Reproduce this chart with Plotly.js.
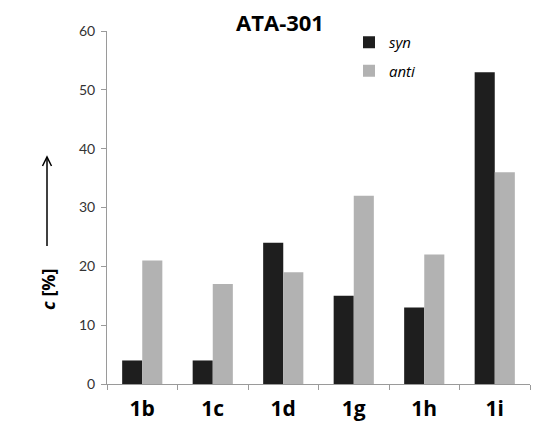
<!DOCTYPE html>
<html><head><meta charset="utf-8">
<script src="https://cdn.plot.ly/plotly-3.0.1.min.js"></script>
<style>html,body{margin:0;padding:0;background:#fff}</style>
</head><body><div id="chart" style="width:545px;height:427px"></div>
<script>
const categories = ['1b','1c','1d','1g','1h','1i'];
const synValues = [4, 4, 24, 15, 13, 53];
const antiValues = [21, 17, 19, 32, 22, 36];
const yTicks = [0,10,20,30,40,50,60];

const W = 545, H = 427, L = 107, R = 15, T = 31, B = 43;
const pw = W - L - R, ph = H - T - B;
const px = x => (x - L) / pw;
const py = y => (H - B - y) / ph;

const font = 'Lato, "Open Sans", "Liberation Sans", sans-serif';
const bfont = '"Open Sans", "Noto Sans", sans-serif';

const traces = [
  {type:'bar', name:'<i>syn</i>', x:categories, y:synValues, marker:{color:'#1e1e1e'}, legendgroup:'a'},
  {type:'bar', name:'<i>anti</i>', x:categories, y:antiValues, marker:{color:'#b2b2b2'}, legendgroup:'b'}
];

const ax = px(47), ytop = py(157), ybot = py(246);
const layout = {
  width: W, height: H,
  margin: {l:L, r:R, t:T, b:B, pad:0},
  paper_bgcolor:'#fff', plot_bgcolor:'#fff',
  barmode:'group', bargap:0.43, bargroupgap:0,
  title: {text:'<b>ATA-301</b>', x:280/W, xref:'container', xanchor:'center', y:1 - 23/H, yanchor:'middle', font:{family:bfont, size:22, color:'#000'}},
  showlegend:true,
  legend: {x:px(349), y:py(26), xanchor:'left', yanchor:'top', traceorder:'grouped', tracegroupgap:6,
           font:{family:bfont, size:15, color:'#000'}, bgcolor:'rgba(0,0,0,0)'},
  xaxis: {type:'category', showline:true, linecolor:'#9a9a9a', linewidth:1, ticks:'outside', ticklen:5,
          tickcolor:'#9a9a9a', tickson:'boundaries', showgrid:false, zeroline:false,
          tickfont:{family:bfont, size:21, color:'#000', weight:'bold'}, ticklabelstandoff:6},
  yaxis: {range:[0,60], tickvals:yTicks, showline:true, linecolor:'#9a9a9a', linewidth:1, ticks:'outside', ticklen:5,
          tickcolor:'#9a9a9a', showgrid:false, zeroline:false,
          tickfont:{family:font, size:14, color:'#333'}, ticklabelstandoff:3},
  annotations: [
    {text:'<b><i>c</i> [%]</b>', xref:'paper', yref:'paper', x:px(48), y:py(289), textangle:-90,
     showarrow:false, font:{family:bfont, size:18, color:'#000'}, xanchor:'center', yanchor:'middle'}
  ],
  shapes: [
    {type:'line', xref:'paper', yref:'paper', x0:ax, x1:ax, y0:ybot, y1:ytop, line:{color:'#000', width:1.5}},
    {type:'path', xref:'paper', yref:'paper',
     path:`M ${px(42.5)} ${py(166)} L ${ax} ${ytop} L ${px(51.5)} ${py(166)}`, line:{color:'#000', width:1.5}}
  ]
};
Plotly.newPlot('chart', traces, layout, {displayModeBar:false, staticPlot:true});
</script></body></html>
